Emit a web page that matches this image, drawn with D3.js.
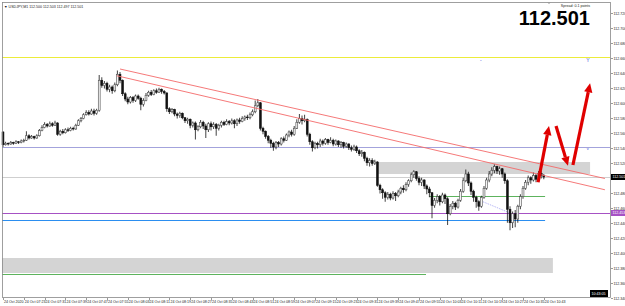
<!DOCTYPE html>
<html>
<head>
<meta charset="utf-8">
<script src="https://cdn.jsdelivr.net/npm/d3@7"></script>
<style>
body { margin: 0; background: #fff; }
svg.main { display: block; font-family: "Liberation Sans", Arial, sans-serif; }
.axis text { fill: #222; font-size: 3.6px; }
.axis line, .axis path { stroke: #555; stroke-width: 0.6; shape-rendering: crispEdges; }
</style>
</head>
<body>
<script>
// USDJPY M1, bars from 07:15; open of each bar = previous close
var firstOpen = 112.561;
var closes = [112.544,112.546,112.545,112.547,112.546,112.548,112.547,112.549,112.550,112.556,
112.553,112.555,112.553,112.556,112.563,112.567,112.571,112.569,112.572,112.570,
112.573,112.558,112.562,112.560,112.564,112.563,112.566,112.565,112.570,112.576,
112.579,112.584,112.587,112.585,112.589,112.586,112.590,112.630,112.623,112.626,
112.618,112.621,112.616,112.624,112.638,112.630,112.612,112.605,112.601,112.607,
112.603,112.609,112.606,112.598,112.603,112.610,112.614,112.611,112.616,112.614,
112.618,112.615,112.613,112.592,112.588,112.591,112.585,112.583,112.586,112.580,
112.576,112.578,112.570,112.573,112.564,112.568,112.574,112.569,112.564,112.572,
112.568,112.571,112.566,112.570,112.574,112.571,112.575,112.573,112.576,112.572,
112.577,112.575,112.579,112.581,112.580,112.584,112.588,112.596,112.600,112.566,
112.562,112.555,112.550,112.546,112.541,112.547,112.545,112.552,112.550,112.557,
112.561,112.558,112.566,112.574,112.579,112.576,112.578,112.558,112.548,112.540,
112.546,112.544,112.549,112.546,112.551,112.547,112.550,112.545,112.549,112.544,
112.547,112.542,112.545,112.540,112.538,112.541,112.536,112.532,112.534,112.526,
112.520,112.523,112.519,112.521,112.490,112.484,112.480,112.474,112.478,112.473,
112.479,112.476,112.481,112.486,112.484,112.491,112.496,112.504,112.508,112.499,
112.494,112.497,112.489,112.485,112.480,112.463,112.470,112.475,112.468,112.477,
112.472,112.452,112.462,112.466,112.461,112.470,112.482,112.496,112.505,112.493,
112.482,112.474,112.468,112.462,112.474,112.486,112.497,112.505,112.510,112.515,
112.509,112.512,112.505,112.496,112.458,112.440,112.452,112.445,112.462,112.475,
112.486,112.494,112.500,112.497,112.503,112.498,112.506,112.503,112.501];
var highs = [112.562,112.548,112.547,112.549,112.548,112.550,112.549,112.551,112.552,112.562,
112.558,112.557,112.556,112.558,112.565,112.570,112.574,112.573,112.575,112.574,
112.576,112.574,112.564,112.565,112.566,112.567,112.568,112.568,112.572,112.578,
112.581,112.586,112.590,112.590,112.592,112.592,112.592,112.637,112.634,112.629,
112.628,112.624,112.623,112.627,112.643,112.641,112.631,112.614,112.608,112.609,
112.609,112.611,112.611,112.608,112.606,112.613,112.616,112.617,112.618,112.619,
112.620,112.619,112.617,112.614,112.594,112.593,112.592,112.587,112.588,112.587,
112.581,112.580,112.579,112.575,112.575,112.570,112.577,112.576,112.572,112.574,
112.575,112.574,112.573,112.572,112.576,112.576,112.578,112.577,112.579,112.578,
112.579,112.580,112.582,112.583,112.584,112.587,112.591,112.603,112.605,112.601,
112.568,112.563,112.557,112.552,112.548,112.549,112.549,112.554,112.555,112.559,
112.563,112.564,112.569,112.578,112.585,112.583,112.584,112.579,112.560,112.550,
112.548,112.548,112.552,112.551,112.553,112.552,112.554,112.552,112.551,112.550,
112.549,112.548,112.547,112.546,112.543,112.544,112.543,112.538,112.537,112.535,
112.528,112.526,112.526,112.524,112.522,112.492,112.486,112.482,112.481,112.480,
112.482,112.481,112.484,112.488,112.490,112.494,112.498,112.507,112.510,112.509,
112.502,112.500,112.498,112.491,112.488,112.481,112.473,112.478,112.477,112.480,
112.479,112.474,112.465,112.469,112.468,112.472,112.485,112.500,112.511,112.508,
112.495,112.484,112.476,112.470,112.476,112.489,112.500,112.509,112.514,112.518,
112.516,112.515,112.513,112.507,112.498,112.462,112.455,112.457,112.464,112.478,
112.489,112.497,112.503,112.502,112.507,112.505,112.509,112.509,112.505];
var lows = [112.541,112.543,112.543,112.544,112.544,112.545,112.545,112.546,112.547,112.549,
112.551,112.552,112.551,112.552,112.555,112.562,112.566,112.567,112.568,112.568,
112.569,112.556,112.556,112.558,112.559,112.561,112.562,112.563,112.564,112.569,
112.574,112.578,112.583,112.583,112.584,112.583,112.584,112.588,112.620,112.619,
112.615,112.614,112.612,112.614,112.622,112.626,112.609,112.602,112.598,112.599,
112.600,112.601,112.604,112.590,112.595,112.602,112.608,112.609,112.610,112.612,
112.613,112.612,112.611,112.588,112.585,112.586,112.582,112.579,112.580,112.578,
112.573,112.572,112.566,112.567,112.551,112.562,112.566,112.565,112.553,112.561,
112.563,112.565,112.556,112.563,112.567,112.569,112.570,112.570,112.571,112.566,
112.569,112.572,112.574,112.576,112.577,112.578,112.582,112.586,112.594,112.563,
112.558,112.552,112.546,112.540,112.536,112.538,112.541,112.543,112.547,112.549,
112.554,112.555,112.556,112.565,112.572,112.571,112.574,112.555,112.544,112.535,
112.538,112.539,112.541,112.543,112.544,112.544,112.546,112.542,112.543,112.541,
112.540,112.539,112.540,112.537,112.535,112.536,112.533,112.529,112.528,112.522,
112.516,112.515,112.516,112.517,112.488,112.479,112.472,112.468,112.471,112.470,
112.471,112.469,112.474,112.478,112.480,112.482,112.488,112.494,112.500,112.496,
112.490,112.489,112.485,112.478,112.474,112.446,112.460,112.466,112.463,112.466,
112.465,112.437,112.450,112.458,112.457,112.459,112.468,112.480,112.494,112.489,
112.477,112.468,112.460,112.456,112.460,112.472,112.484,112.494,112.502,112.506,
112.505,112.504,112.500,112.492,112.440,112.430,112.433,112.434,112.440,112.458,
112.472,112.484,112.490,112.492,112.495,112.494,112.497,112.499,112.498];

var timeLabels = ["24 Oct 2020","24 Oct 07:23","24 Oct 07:31","24 Oct 07:39","24 Oct 07:47",
    "24 Oct 07:55","24 Oct 08:03","24 Oct 08:11","24 Oct 08:19","24 Oct 08:27","24 Oct 08:35",
    "24 Oct 08:43","24 Oct 08:51","24 Oct 08:59","24 Oct 09:07","24 Oct 09:15","24 Oct 09:23",
    "24 Oct 09:31","24 Oct 09:39","24 Oct 09:47","24 Oct 09:55","24 Oct 10:03","24 Oct 10:11",
    "24 Oct 10:19","24 Oct 10:27","24 Oct 10:35","24 Oct 10:43"];
var timeLabelBars = [0,8,16,24,32,40,48,56,64,72,80,88,96,104,112,120,128,136,144,152,160,168,176,184,192,200,208];
var priceTicks = [112.720,112.700,112.680,112.660,112.640,112.620,112.600,112.580,112.560,112.540,
    112.520,112.480,112.460,112.440,112.420,112.400,112.380,112.360,112.340];

// objects on the chart (bar index, price)
var bidPrice = 112.501;
var yellowLevel = 112.661;
var slateLevel = 112.541;
var purpleLevel = 112.453;
var blueLevel = 112.444;       // to bar 208.5
var greenLevel = 112.476;      // bars 164 .. 208.5
var greenLowLevel = 112.372;   // to bar 162.7
var upperZone = [144, 225.8, 112.521, 112.505];
var lowerZone = [-0.4, 211.5, 112.393, 112.373];
var trendUpper = [[45, 112.645], [231.5, 112.499]];
var trendLower = [[43.8, 112.636], [231.5, 112.484]];
var dotLine = [[184.6, 112.468], [195, 112.453]];
var arrows = [
    [[205.8, 112.494], [210, 112.569]],
    [[212.7, 112.569], [217.3, 112.516]],
    [[219.2, 112.517], [225.8, 112.626]]
];
var blueMarks = [[183.8, 112.657, "-"], [225, 112.657, "Y"]];

var W = 625, H = 306;
var plotL = 2, plotR = 610, plotT = 2, plotB = 297;

var svg = d3.select("body").append("svg")
    .attr("class", "main")
    .attr("width", W)
    .attr("height", H);

var x = d3.scaleLinear().domain([0, 233]).range([3, 608.8]);
var y = d3.scaleLinear().domain([112.341, 112.733]).range([297, 3]);

var bars = closes.map(function (c, i) {
    var o = i == 0 ? firstOpen : closes[i - 1];
    return { i: i, o: o, c: c, h: Math.max(highs[i], o, c), l: Math.min(lows[i], o, c) };
});

var g = svg.append("g");

// zones
function zone(z) {
    g.append("rect")
        .attr("x", x(z[0]))
        .attr("y", y(z[2]))
        .attr("width", x(z[1]) - x(z[0]))
        .attr("height", y(z[3]) - y(z[2]))
        .attr("fill", "#d4d4d4");
}
zone(upperZone);
zone(lowerZone);

function hline(p, from, to, color, w) {
    g.append("line")
        .attr("x1", from).attr("x2", to)
        .attr("y1", Math.round(y(p)) + 0.5).attr("y2", Math.round(y(p)) + 0.5)
        .attr("stroke", color).attr("stroke-width", w || 1);
}
hline(yellowLevel, plotL, plotR, "#ecec3a", 1.1);
hline(slateLevel, plotL, plotR, "#a3a3dc");
hline(bidPrice, plotL, plotR, "#cfcfcf");
hline(purpleLevel, plotL, plotR, "#a651c4");
hline(blueLevel, plotL, x(208.5), "#2b8ef0");
hline(greenLevel, x(164), x(208.5), "#5db35d");
hline(greenLowLevel, plotL, x(162.7), "#5db35d");

g.append("line")
    .attr("x1", x(dotLine[0][0])).attr("y1", y(dotLine[0][1]))
    .attr("x2", x(dotLine[1][0])).attr("y2", y(dotLine[1][1]))
    .attr("stroke", "#9a9af0").attr("stroke-width", 0.7)
    .attr("stroke-dasharray", "1.5,1");

// candles
g.selectAll("line.wick").data(bars).enter().append("line")
    .attr("class", "wick")
    .attr("x1", function (d) { return x(d.i); })
    .attr("x2", function (d) { return x(d.i); })
    .attr("y1", function (d) { return y(d.h); })
    .attr("y2", function (d) { return y(d.l); })
    .attr("stroke", "#111")
    .attr("stroke-width", 0.8);

g.selectAll("rect.body").data(bars).enter().append("rect")
    .attr("class", "body")
    .attr("x", function (d) { return x(d.i) - 0.95; })
    .attr("width", 1.9)
    .attr("y", function (d) { return y(Math.max(d.o, d.c)); })
    .attr("height", function (d) { return Math.max(0.6, Math.abs(y(d.o) - y(d.c))); })
    .attr("fill", function (d) { return d.c >= d.o ? "#f4f4f4" : "#111"; })
    .attr("stroke", function (d) { return d.c >= d.o ? "#444" : "#111"; })
    .attr("stroke-width", 0.55);

// trend lines
[trendUpper, trendLower].forEach(function (t) {
    g.append("line")
        .attr("x1", x(t[0][0])).attr("y1", y(t[0][1]))
        .attr("x2", x(t[1][0])).attr("y2", y(t[1][1]))
        .attr("stroke", "#f46a6a").attr("stroke-width", 0.9);
});

// red arrows
arrows.forEach(function (a) {
    var x0 = x(a[0][0]), y0 = y(a[0][1]), x1 = x(a[1][0]), y1 = y(a[1][1]);
    var dx = x1 - x0, dy = y1 - y0, len = Math.sqrt(dx * dx + dy * dy);
    var ux = dx / len, uy = dy / len;
    var hl = 9, hw = 4.2;
    var bx = x1 - ux * hl, by = y1 - uy * hl;
    g.append("line")
        .attr("x1", x0).attr("y1", y0).attr("x2", bx).attr("y2", by)
        .attr("stroke", "#e00000").attr("stroke-width", 3.2);
    g.append("path")
        .attr("d", "M" + x1 + "," + y1 + "L" + (bx - uy * hw) + "," + (by + ux * hw) +
            "L" + (bx + uy * hw) + "," + (by - ux * hw) + "Z")
        .attr("fill", "#e00000");
});

blueMarks.forEach(function (m) {
    g.append("text")
        .attr("x", x(m[0])).attr("y", y(m[1]) + 2)
        .attr("text-anchor", "middle")
        .attr("font-size", 5)
        .attr("fill", "#3b4fd8")
        .text(m[2]);
});
g.append("text")
    .attr("x", x(224.5)).attr("y", y(slateLevel) + 3)
    .attr("font-size", 4).attr("fill", "#3b4fd8")
    .text("v");

// frame
svg.append("rect")
    .attr("x", plotL + 0.5).attr("y", plotT + 0.5)
    .attr("width", plotR - plotL).attr("height", plotB - plotT)
    .attr("fill", "none").attr("stroke", "#888").attr("stroke-width", 0.8);

// axes
var yAxis = d3.axisRight(y)
    .tickValues(priceTicks)
    .tickSize(2)
    .tickFormat(d3.format(".3f"));
svg.append("g").attr("class", "axis")
    .attr("transform", "translate(" + (plotR + 0.5) + ",0)")
    .call(yAxis)
    .call(function (s) { s.select(".domain").remove(); })
    .selectAll("text").attr("x", 3).attr("dy", "0.35em");

var xAxis = d3.axisBottom(x)
    .tickValues(timeLabelBars)
    .tickSize(2)
    .tickFormat(function (d, k) { return timeLabels[k]; });
svg.append("g").attr("class", "axis")
    .attr("transform", "translate(0," + (plotB + 0.5) + ")")
    .call(xAxis)
    .call(function (s) { s.select(".domain").remove(); })
    .selectAll("text").attr("text-anchor", "start").attr("x", 0.5).attr("y", 3).attr("dy", "0.71em");

// price labels on the axis
function axisTag(p, fill, label) {
    svg.append("rect")
        .attr("x", plotR + 1).attr("y", y(p) - 3)
        .attr("width", 14).attr("height", 6)
        .attr("fill", fill);
    svg.append("text")
        .attr("x", plotR + 2.5).attr("y", y(p) + 1.3)
        .attr("font-size", 3.6).attr("fill", "#fff")
        .text(label);
}
axisTag(bidPrice, "#000", d3.format(".3f")(bidPrice));
axisTag(purpleLevel, "#a651c4", d3.format(".3f")(purpleLevel));

// texts
svg.append("text")
    .attr("x", 4).attr("y", 8)
    .attr("font-size", 3.6).attr("fill", "#222")
    .text("\u25BC USDJPY,M1  112.500 112.503 112.497 112.501");

svg.append("text")
    .attr("x", 590).attr("y", 7)
    .attr("text-anchor", "end")
    .attr("font-size", 3.6).attr("fill", "#222")
    .text("Spread: 0.1 points");

svg.append("text")
    .attr("x", 590).attr("y", 25)
    .attr("text-anchor", "end")
    .attr("font-size", 20).attr("font-weight", "bold")
    .attr("font-family", "'Liberation Sans', Arial, sans-serif")
    .attr("fill", "#000")
    .text(d3.format(".3f")(bidPrice));

svg.append("rect")
    .attr("x", 590).attr("y", 290)
    .attr("width", 18).attr("height", 7)
    .attr("fill", "#000");
svg.append("text")
    .attr("x", 591.5).attr("y", 294.8)
    .attr("font-size", 3.6).attr("fill", "#fff")
    .text("10:43:05");

// shift marker at top
var sx = x(closes.length + 1);
svg.append("path")
    .attr("d", "M" + (sx - 2) + ",2L" + (sx + 2) + ",2L" + sx + ",4Z")
    .attr("fill", "#999");
</script>
</body>
